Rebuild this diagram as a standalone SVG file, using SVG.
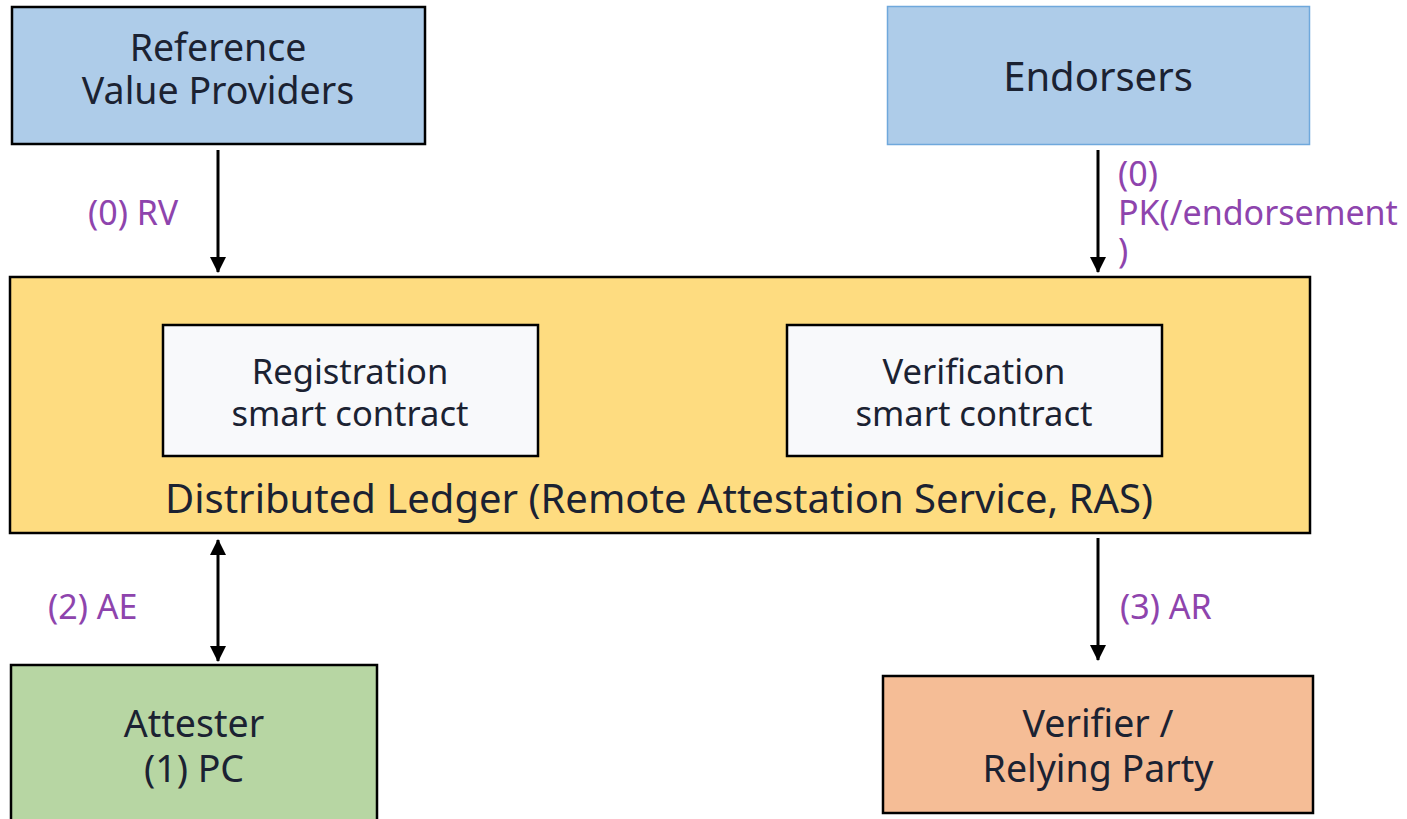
<svg xmlns="http://www.w3.org/2000/svg" width="1407" height="819" viewBox="0 0 1407 819">
<style>
text{font-family:"Noto Sans","Open Sans",sans-serif;fill:#1b2232;text-anchor:middle}
.lbl{fill:#8e44ad;text-anchor:start;font-size:34px}
.box{stroke:#000;stroke-width:2.5}
.conn{stroke:#000;stroke-width:3;fill:none}
</style>
<defs>
<marker id="ah" markerUnits="userSpaceOnUse" markerWidth="16" markerHeight="18" refX="15" refY="8" orient="auto-start-reverse" viewBox="0 0 16 16">
<path d="M0,0 L16,8 L0,16 Z" fill="#000"/>
</marker>
</defs>
<rect width="1407" height="819" fill="#fff"/>
<g id="rvp">
<rect class="box" x="12" y="7" width="413" height="137" fill="#aecce9"/>
<text x="218" y="61" font-size="37.5">Reference</text>
<text x="218" y="104" font-size="37.5">Value Providers</text>
</g>
<g id="endorsers">
<rect x="887.5" y="6.5" width="422" height="138" fill="#aecce9" stroke="#6fa8dc" stroke-width="1.5"/>
<text x="1098" y="91" font-size="40">Endorsers</text>
</g>
<g id="ledger">
<rect class="box" x="10" y="277" width="1300" height="256" fill="#fedc80"/>
<text x="659" y="513" font-size="40">Distributed Ledger (Remote Attestation Service, RAS)</text>
</g>
<g id="registration">
<rect class="box" x="163" y="325" width="375" height="131" fill="#f8f9fb"/>
<text x="350" y="384" font-size="34.5">Registration</text>
<text x="350" y="426" font-size="34.5">smart contract</text>
</g>
<g id="verification">
<rect class="box" x="787" y="325" width="375" height="131" fill="#f8f9fb"/>
<text x="974" y="384" font-size="34.5">Verification</text>
<text x="974" y="426" font-size="34.5">smart contract</text>
</g>
<g id="attester">
<rect class="box" x="11" y="665" width="366" height="160" fill="#b7d6a3"/>
<text x="194" y="737" font-size="37.5">Attester</text>
<text x="194" y="782" font-size="37.5">(1) PC</text>
</g>
<g id="verifier">
<rect class="box" x="883" y="676" width="430" height="137" fill="#f5bd96"/>
<text x="1098" y="737" font-size="37.5">Verifier /</text>
<text x="1098" y="782" font-size="37.5">Relying Party</text>
</g>
<g id="connectors">
<line class="conn" x1="218" y1="150" x2="218" y2="272" marker-end="url(#ah)"/>
<line class="conn" x1="1098" y1="150" x2="1098" y2="272" marker-end="url(#ah)"/>
<line class="conn" x1="218" y1="540" x2="218" y2="661" marker-start="url(#ah)" marker-end="url(#ah)"/>
<line class="conn" x1="1098" y1="538" x2="1098" y2="660" marker-end="url(#ah)"/>
<text class="lbl" x="88" y="225">(0) RV</text>
<text class="lbl" x="1118" y="186">(0)</text>
<text class="lbl" x="1118" y="225">PK(/endorsement</text>
<text class="lbl" x="1118" y="263">)</text>
<text class="lbl" x="48" y="619">(2) AE</text>
<text class="lbl" x="1120" y="619">(3) AR</text>
</g>
</svg>
